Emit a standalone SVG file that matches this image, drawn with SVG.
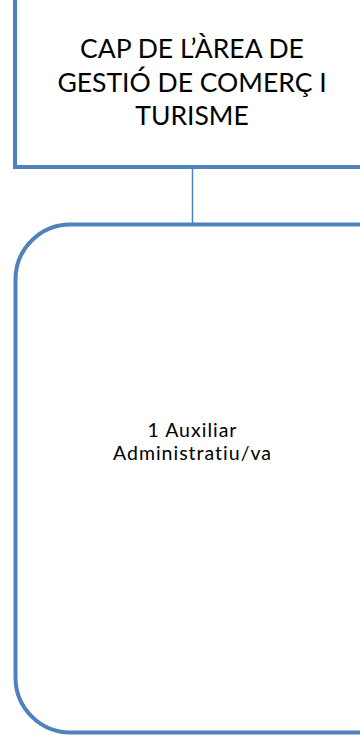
<svg xmlns="http://www.w3.org/2000/svg" width="360" height="743" viewBox="0 0 360 743">
<style>
.box{fill:#ffffff;stroke:#4f81bd;stroke-width:4}
.conn{stroke:#4f81bd;stroke-width:1.5;fill:none}
.t1{font-family:Lato,"Open Sans","Liberation Sans",sans-serif;font-size:26.5px;fill:#000;text-anchor:middle;font-variant-ligatures:none}
.t2{font-family:Lato,"Open Sans","Liberation Sans",sans-serif;font-size:19.5px;letter-spacing:1px;fill:#000;text-anchor:middle;font-variant-ligatures:none}
</style>
<rect width="360" height="743" fill="#ffffff"/>
<g id="connectors">
<line class="conn" x1="192.5" y1="167" x2="192.5" y2="224"/>
</g>
<g id="node-cap">
<rect class="box" x="15" y="-20" width="370" height="187"/>
<text class="t1" x="192" y="58">CAP DE L’ÀREA DE</text>
<text class="t1" x="192" y="91.5">GESTIÓ DE COMERÇ I</text>
<text class="t1" x="192" y="125">TURISME</text>
</g>
<g id="node-aux">
<rect class="box" x="15.5" y="224.5" width="400" height="508" rx="55" ry="55"/>
<text class="t2" x="192.5" y="436.5">1 Auxiliar</text>
<text class="t2" x="192.5" y="460">Administratiu/va</text>
</g>
</svg>
